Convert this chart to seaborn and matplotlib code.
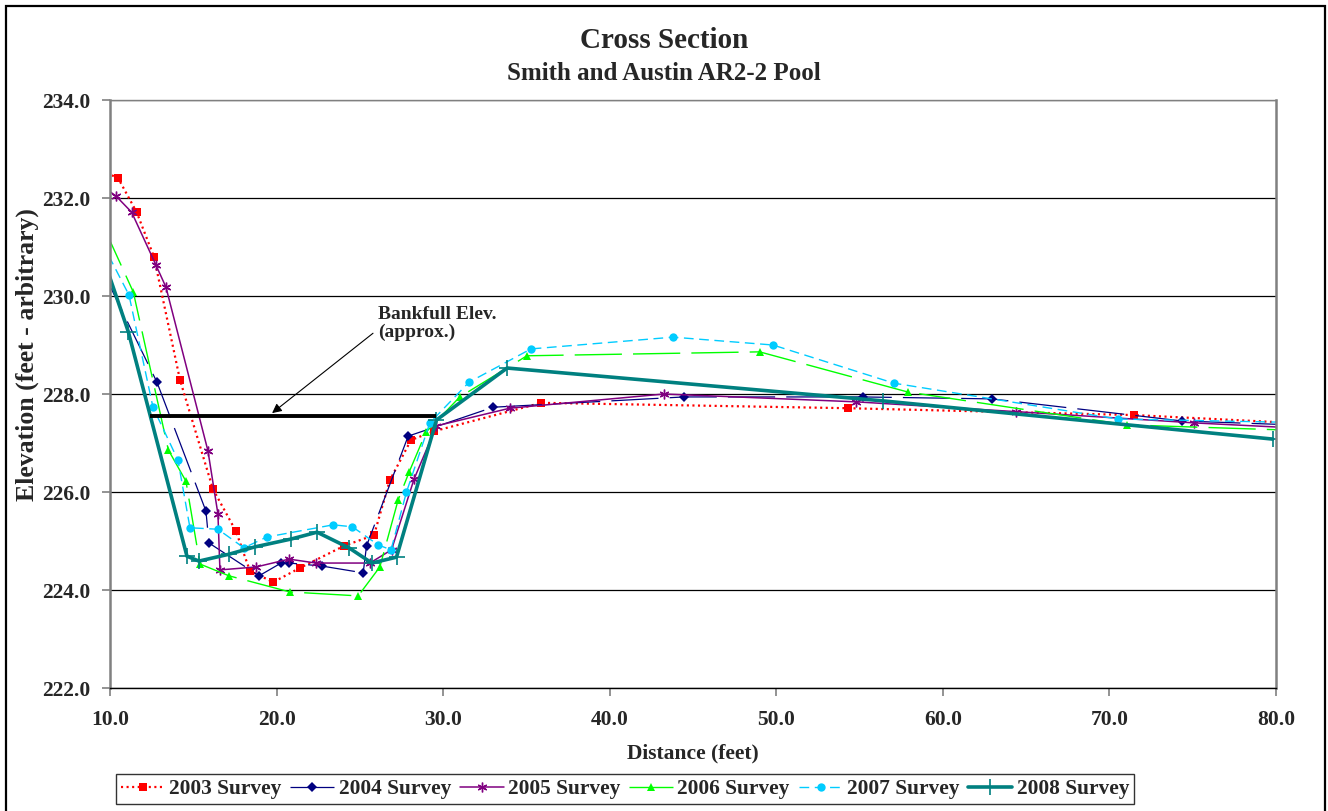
import matplotlib
matplotlib.use("Agg")
import matplotlib.pyplot as plt
import numpy as np
import pandas as pd
import seaborn as sns
from matplotlib.patches import Rectangle

# Survey data (distance in feet, elevation arbitrary)
x_2003 = [9.5, 10.48, 11.6, 12.64, 14.2, 16.18, 17.56, 18.4, 19.8, 21.4, 24.05, 25.85, 26.8, 28.07, 29.45, 35.9, 54.3, 71.5, 81.0]
y_2003 = [232.55, 232.41, 231.71, 230.8, 228.29, 226.06, 225.2, 224.39, 224.16, 224.45, 224.9, 225.12, 226.24, 227.06, 227.24, 227.82, 227.71, 227.57, 227.41]

x_2004 = [9.5, 12.82, 15.76, 15.94, 18.95, 20.27, 20.75, 22.7, 25.2, 25.4, 27.9, 33.0, 44.46, 55.2, 62.95, 74.35, 81.0]
y_2004 = [230.55, 228.24, 225.61, 224.96, 224.29, 224.55, 224.55, 224.49, 224.35, 224.9, 227.14, 227.73, 227.94, 227.94, 227.9, 227.45, 227.37]

x_2005 = [9.5, 10.36, 11.3, 12.76, 13.36, 15.88, 16.48, 16.6, 18.77, 20.75, 22.37, 25.6, 26.9, 28.25, 29.6, 34.0, 43.26, 54.8, 64.4, 75.1, 81.0]
y_2005 = [232.25, 232.04, 231.71, 230.63, 230.18, 226.84, 225.55, 224.41, 224.47, 224.63, 224.55, 224.55, 224.82, 226.26, 227.35, 227.71, 228.0, 227.84, 227.64, 227.41, 227.31]

x_2006 = [9.5, 11.4, 13.5, 14.56, 15.4, 17.14, 20.8, 24.9, 26.2, 27.3, 27.95, 28.97, 31.0, 35.03, 49.0, 57.9, 71.05, 81.0]
y_2006 = [231.5, 230.08, 226.86, 226.22, 224.53, 224.29, 223.96, 223.88, 224.47, 225.84, 226.4, 227.22, 227.94, 228.78, 228.86, 228.04, 227.37, 227.26]

x_2007 = [9.5, 11.14, 12.58, 14.08, 14.8, 16.48, 18.04, 19.4, 23.4, 24.55, 26.1, 26.87, 27.8, 29.2, 31.55, 35.27, 43.8, 49.8, 57.07, 70.5, 81.0]
y_2007 = [231.1, 230.02, 227.73, 226.65, 225.27, 225.24, 224.86, 225.08, 225.33, 225.29, 224.92, 224.82, 226.0, 227.41, 228.24, 228.92, 229.16, 229.0, 228.22, 227.49, 227.42]

x_2008 = [9.5, 11.1, 14.62, 15.34, 17.14, 18.7, 20.87, 22.43, 24.35, 25.72, 27.2, 29.6, 33.84, 56.4, 79.8]
y_2008 = [230.87, 229.27, 224.69, 224.59, 224.73, 224.88, 225.04, 225.18, 224.86, 224.55, 224.67, 227.47, 228.53, 227.86, 227.08]

bankfull_x = [12.4, 29.57]
bankfull_y = [227.55, 227.55]

x_ticks = [10, 20, 30, 40, 50, 60, 70, 80]
y_ticks = [222, 224, 226, 228, 230, 232, 234]

sns.set_style("white")
plt.rcParams["font.family"] = ["Liberation Serif", "DejaVu Serif"]
plt.rcParams["font.weight"] = "bold"
plt.rcParams["lines.scale_dashes"] = False

fig = plt.figure(figsize=(13.28, 8.11), dpi=100)
ax = fig.add_axes([110 / 1328, 1 - 688 / 811, 1166 / 1328, 588 / 811])

series = [
    ("2003 Survey", x_2003, y_2003, "#FF0000", (0, (1.5, 2.5)), 1.6, "s", 6, None),
    ("2004 Survey", x_2004, y_2004, "#000080", (0, (34, 8)), 0.9, "D", 5, None),
    ("2005 Survey", x_2005, y_2005, "#800080", "-", 1.1, (6, 2, 0), 7, 1.0),
    ("2006 Survey", x_2006, y_2006, "#00FF00", (0, (34, 8)), 1.0, "^", 6, None),
    ("2007 Survey", x_2007, y_2007, "#00CCFF", (0, (7, 4)), 1.0, "o", 6, None),
    ("2008 Survey", x_2008, y_2008, "#008080", "-", 2.6, "+", 11, 1.2),
]

for label, xs, ys, color, ls, lw, mk, ms, mew in series:
    df = pd.DataFrame({"Distance": xs, "Elevation": ys})
    sns.lineplot(
        data=df,
        x="Distance",
        y="Elevation",
        sort=False,
        estimator=None,
        color=color,
        linestyle=ls,
        linewidth=lw,
        marker=mk,
        markersize=ms,
        markerfacecolor=color,
        markeredgecolor=color,
        markeredgewidth=mew if mew is not None else 0,
        label=label,
        legend=False,
        ax=ax,
    )

# Bankfull elevation line and its note
ax.plot(bankfull_x, bankfull_y, color="black", linewidth=2.8, solid_capstyle="butt")
ax.text(26.09, 229.80, "Bankfull Elev.\n(approx.)", fontsize=14, fontweight="bold",
        ha="left", va="top", linespacing=1.05)
ax.annotate(
    "",
    xy=(19.73, 227.61),
    xytext=(25.79, 229.24),
    arrowprops=dict(arrowstyle="-|>", color="black", lw=0.8, mutation_scale=14, shrinkA=0, shrinkB=0),
)

ax.set_xlim(10, 80)
ax.set_ylim(222, 234)
ax.set_xticks(x_ticks)
ax.set_yticks(y_ticks)
ax.set_xticklabels([f"{v:.1f}" for v in x_ticks])
ax.set_yticklabels([f"{v:.1f}" for v in y_ticks])
ax.tick_params(axis="both", labelsize=15.5, direction="out", length=6, width=1.2, color="#808080")
ax.tick_params(axis="x", pad=10)
ax.tick_params(axis="y", pad=8)
for t in ax.get_xticklabels() + ax.get_yticklabels():
    t.set_fontweight("bold")
ax.xaxis.set_ticks_position("bottom")
ax.yaxis.set_ticks_position("left")
ax.grid(axis="y", color="black", linewidth=0.9)
ax.grid(axis="x", visible=False)
ax.set_axisbelow(True)
for side in ["left", "right", "top"]:
    ax.spines[side].set_color("#808080")
    ax.spines[side].set_linewidth(1.8)
ax.spines["top"].set_linewidth(1.0)
ax.spines["bottom"].set_color("black")
ax.spines["bottom"].set_linewidth(1.0)

ax.set_xlabel("Distance (feet)", fontsize=15.5, fontweight="bold")
ax.xaxis.set_label_coords(0.5, -(753 - 688) / 588)
ax.xaxis.label.set_va("center")
ax.set_ylabel("Elevation (feet - arbitrary)", fontsize=18.5, fontweight="bold")
ax.yaxis.set_label_coords(-0.061, (688 - 355) / 588)

fig.text(0.5, 1 - 41 / 811, "Cross Section", ha="center", va="center", fontsize=21, fontweight="bold")
fig.text(0.5, 1 - 74 / 811, "Smith and Austin AR2-2 Pool", ha="center", va="center", fontsize=18, fontweight="bold")

handles, labels = ax.get_legend_handles_labels()
leg = fig.legend(
    handles,
    labels,
    loc="center",
    bbox_to_anchor=(625 / 1328, 1 - 789 / 811),
    ncol=6,
    frameon=True,
    fancybox=False,
    edgecolor="black",
    prop={"family": ["Liberation Serif"], "weight": "bold", "size": 15.4},
    handlelength=2.05,
    handletextpad=0.2,
    columnspacing=0.42,
    borderpad=0.25,
    borderaxespad=0,
)
leg.get_frame().set_linewidth(1.0)

# outer chart border
fig.patches.append(Rectangle((6 / 1328, -0.01), 1319 / 1328, 1.01 - 6 / 811, transform=fig.transFigure,
                             fill=False, edgecolor="black", linewidth=1.6))

fig.savefig("out.png", dpi=100)
